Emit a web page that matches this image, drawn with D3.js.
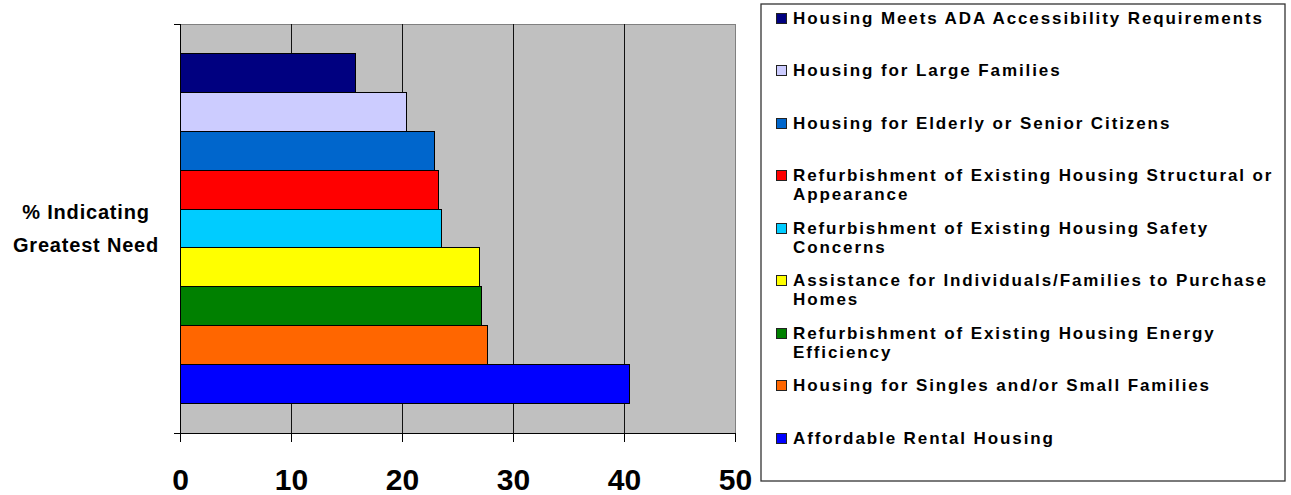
<!DOCTYPE html>
<html>
<head>
<meta charset="utf-8">
<script src="https://cdn.jsdelivr.net/npm/d3@7"></script>
<style>
  body { margin: 0; background: #fff; }
  svg { display: block; font-family: Arial, "Liberation Sans", sans-serif; }
</style>
</head>
<body>
<svg id="chart"></svg>
<script>
'use strict'

// single category on the vertical axis
const categories = ['% Indicating Greatest Need']

// series, top bar first (same order as the legend)
const seriesNames = [
  'Housing Meets ADA Accessibility Requirements',
  'Housing for Large Families',
  'Housing for Elderly or Senior Citizens',
  'Refurbishment of Existing Housing Structural or Appearance',
  'Refurbishment of Existing Housing Safety Concerns',
  'Assistance for Individuals/Families to Purchase Homes',
  'Refurbishment of Existing Housing Energy Efficiency',
  'Housing for Singles and/or Small Families',
  'Affordable Rental Housing'
]
const seriesValues = [15.8, 20.4, 22.9, 23.3, 23.6, 27.0, 27.2, 27.7, 40.5]
const seriesColors = ['#000080', '#CCCCFF', '#0066CC', '#FF0000', '#00CCFF',
                      '#FFFF00', '#008000', '#FF6600', '#0000FF']
const xTicks = [0, 10, 20, 30, 40, 50]

const width = 1291, height = 495
const plot = { left: 180, right: 735, top: 24, bottom: 433 }

const svg = d3.select('#chart').attr('width', width).attr('height', height)

const x = d3.scaleLinear().domain([0, 50]).range([plot.left, plot.right])
const yCat = d3.scaleBand().domain(categories)
  .range([plot.top, plot.bottom]).paddingInner(0).paddingOuter(0.0827)
const ySer = d3.scaleBand().domain(seriesNames).range([0, yCat.bandwidth()])

// plot background
svg.append('rect')
  .attr('x', plot.left).attr('y', plot.top)
  .attr('width', plot.right - plot.left).attr('height', plot.bottom - plot.top)
  .attr('fill', '#C0C0C0').attr('stroke', '#808080').attr('stroke-width', 1)
  .attr('shape-rendering', 'crispEdges')

// vertical gridlines
svg.append('g').selectAll('line')
  .data(xTicks.filter(d => d > 0 && d < 50))
  .enter().append('line')
    .attr('x1', d => x(d)).attr('x2', d => x(d))
    .attr('y1', plot.top).attr('y2', plot.bottom)
    .attr('stroke', '#111').attr('shape-rendering', 'crispEdges')

// bars
svg.append('g').selectAll('rect')
  .data(seriesNames)
  .enter().append('rect')
    .attr('x', x(0))
    .attr('y', d => yCat(categories[0]) + ySer(d))
    .attr('width', (d, i) => x(seriesValues[i]) - x(0))
    .attr('height', ySer.bandwidth())
    .attr('fill', (d, i) => seriesColors[i])
    .attr('stroke', '#000').attr('stroke-width', 1)
    .attr('shape-rendering', 'crispEdges')

// bottom axis
const xAxis = svg.append('g')
  .attr('transform', `translate(0,${plot.bottom})`)
  .call(d3.axisBottom(x).tickValues(xTicks).tickSize(9).tickSizeOuter(0).tickPadding(27))
xAxis.select('.domain').remove()
xAxis.append('line')
  .attr('x1', plot.left - 6).attr('x2', plot.right)
  .attr('stroke', '#000').attr('shape-rendering', 'crispEdges')
xAxis.selectAll('.tick line').attr('stroke', '#000').attr('shape-rendering', 'crispEdges')
xAxis.selectAll('.tick text')
  .attr('fill', '#000')
  .style('font-family', 'Arial, "Liberation Sans", sans-serif')
  .style('font-size', '30px').style('font-weight', 'bold')

// left axis: line plus ticks at the category band edges
const yAxis = svg.append('g')
yAxis.append('line')
  .attr('x1', plot.left).attr('x2', plot.left)
  .attr('y1', plot.top).attr('y2', plot.bottom)
  .attr('stroke', '#000').attr('shape-rendering', 'crispEdges')
yAxis.selectAll('.edge')
  .data([plot.top, plot.bottom])
  .enter().append('line')
    .attr('class', 'edge')
    .attr('x1', plot.left - 6).attr('x2', plot.left)
    .attr('y1', d => d).attr('y2', d => d)
    .attr('stroke', '#000').attr('shape-rendering', 'crispEdges')

// category label, two lines centred on the band
const catCenter = yCat(categories[0]) + yCat.bandwidth() / 2
const catText = svg.append('text')
  .attr('x', 86).attr('y', catCenter)
  .attr('text-anchor', 'middle')
  .style('font-size', '20px').style('font-weight', 'bold')
  .style('letter-spacing', '0.8px')
catText.append('tspan').attr('x', 86).attr('dy', -10).text('% Indicating')
catText.append('tspan').attr('x', 86).attr('dy', 33).text('Greatest Need')

// legend
const legend = { left: 761, top: 4, right: 1285, bottom: 481 }
svg.append('rect')
  .attr('x', legend.left).attr('y', legend.top)
  .attr('width', legend.right - legend.left).attr('height', legend.bottom - legend.top)
  .attr('fill', '#fff').attr('stroke', '#333').attr('stroke-width', 1.3)

const legendRow = d3.scalePoint().domain(seriesNames).range([17, 437])
const textX = 793, maxTextWidth = 488, lineGap = 19

const item = svg.append('g').selectAll('g')
  .data(seriesNames)
  .enter().append('g')
    .attr('transform', d => `translate(0,${legendRow(d)})`)

item.append('rect')
  .attr('x', 776).attr('y', -4).attr('width', 10).attr('height', 10)
  .attr('fill', (d, i) => seriesColors[i])
  .attr('stroke', '#222').attr('stroke-width', 1)
  .attr('shape-rendering', 'crispEdges')

// text with word wrap measured against the legend width
item.append('text')
  .attr('x', textX).attr('y', 6.5)
  .style('font-size', '17px').style('font-weight', 'bold')
  .style('letter-spacing', '1.9px')
  .each(function (d) {
    const text = d3.select(this)
    const words = d.split(' ')
    let line = []
    let tspan = text.append('tspan').attr('x', textX).attr('dy', 0)
    words.forEach(w => {
      line.push(w)
      tspan.text(line.join(' '))
      if (tspan.node().getComputedTextLength() > maxTextWidth && line.length > 1) {
        line.pop()
        tspan.text(line.join(' '))
        line = [w]
        tspan = text.append('tspan').attr('x', textX).attr('dy', lineGap).text(w)
      }
    })
  })
</script>
</body>
</html>
